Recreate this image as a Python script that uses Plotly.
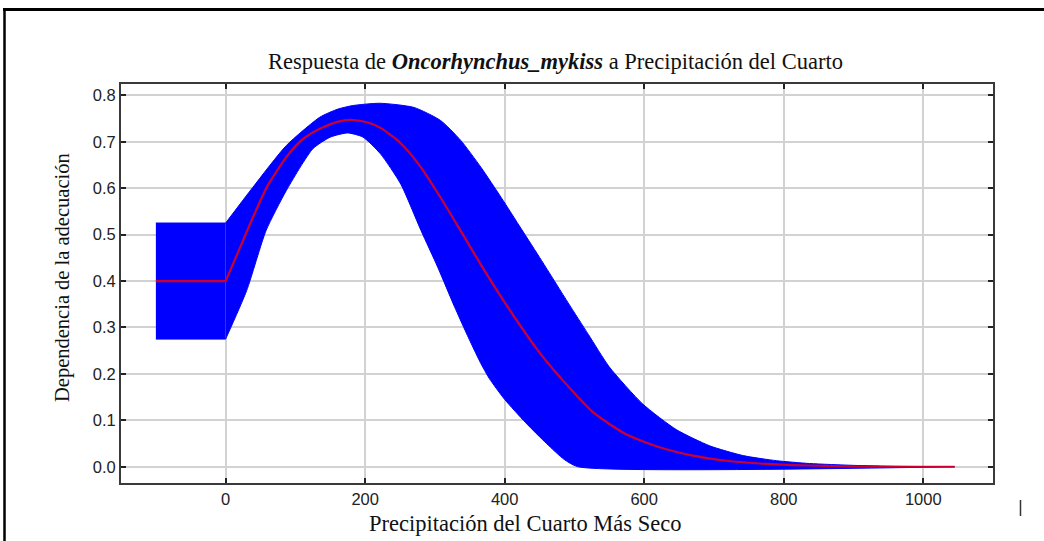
import plotly.graph_objects as go

# ---- data ----
mean_x = [-100, -50, 0, 20, 39, 60, 87, 110, 135, 160, 182, 205, 222, 251, 280, 308, 337, 366, 404,
          450, 484, 527, 574, 622, 670, 718, 766, 813, 860, 920, 1045]
mean_y = [0.40, 0.40, 0.40, 0.47, 0.537, 0.605, 0.667, 0.705, 0.728, 0.743, 0.747, 0.741, 0.730, 0.697,
          0.645, 0.580, 0.508, 0.435, 0.345, 0.246, 0.185, 0.117, 0.070, 0.042, 0.024, 0.013, 0.007,
          0.0035, 0.002, 0.0, 0.0]

up_x = [-100, 0, 39, 87, 135, 160, 182, 221, 270, 308, 337, 366, 395, 424, 453, 491, 520, 550, 598,
        646, 694, 742, 790, 837, 900, 960, 1045]
up_y = [0.525, 0.525, 0.602, 0.692, 0.753, 0.770, 0.778, 0.783, 0.774, 0.746, 0.703, 0.645, 0.58,
        0.512, 0.444, 0.353, 0.285, 0.215, 0.135, 0.080, 0.045, 0.024, 0.013, 0.007, 0.003, 0.001, 0.0]

lo_x = [-100, 0, 30, 58, 87, 125, 150, 175, 197, 222, 251, 280, 304, 328, 345, 365, 378, 400, 430,
        460, 485, 505, 1045]
lo_y = [0.275, 0.275, 0.379, 0.509, 0.595, 0.685, 0.710, 0.719, 0.71, 0.674, 0.609, 0.509, 0.43,
        0.345, 0.288, 0.225, 0.19, 0.145, 0.095, 0.05, 0.016, 0.0, 0.0]

x_ticks = [0, 200, 400, 600, 800, 1000]
y_ticks = [0.0, 0.1, 0.2, 0.3, 0.4, 0.5, 0.6, 0.7, 0.8]

title_txt = "Respuesta de <b><i>Oncorhynchus_mykiss</i></b> a Precipitación del Cuarto"
x_title = "Precipitación del Cuarto Más Seco"
y_title = "Dependencia de la adecuación"

# ---- layout geometry (pixels) ----
W, H = 1044, 541
L, R, T, B = 121, 993, 84, 483


def px(xp):
    return (xp - L) / (R - L)


def py(yp):
    return (B - yp) / (B - T)


SERIF = "Liberation Serif, Times New Roman, serif"
SANS = "Liberation Sans, Arial, sans-serif"
BLUE = "#0000ff"
RED = "rgba(225,0,25,0.9)"
SMOOTH = 0.6

fig = go.Figure()


def split_at_zero(xs, ys):
    """flat part (x <= 0) drawn straight, curved part (x >= 0) drawn smooth"""
    k = xs.index(0)
    return (xs[:k + 1], ys[:k + 1]), (xs[k:], ys[k:])


(lo_a, lo_b) = split_at_zero(lo_x, lo_y)
(up_a, up_b) = split_at_zero(up_x, up_y)
(mn_a, mn_b) = split_at_zero(mean_x, mean_y)

# box part of the band (linear)
fig.add_trace(go.Scatter(x=lo_a[0], y=lo_a[1], mode="lines", line=dict(color=BLUE, width=1),
                         hoverinfo="skip", showlegend=False))
fig.add_trace(go.Scatter(x=up_a[0], y=up_a[1], mode="lines", fill="tonexty", fillcolor=BLUE,
                         line=dict(color=BLUE, width=1), hoverinfo="skip", showlegend=False))
# curved part of the band
fig.add_trace(go.Scatter(x=lo_b[0], y=lo_b[1], mode="lines",
                         line=dict(color=BLUE, width=1, shape="spline", smoothing=SMOOTH),
                         hoverinfo="skip", showlegend=False))
fig.add_trace(go.Scatter(x=up_b[0], y=up_b[1], mode="lines", fill="tonexty", fillcolor=BLUE,
                         line=dict(color=BLUE, width=1, shape="spline", smoothing=SMOOTH),
                         hoverinfo="skip", showlegend=False))
# mean response
fig.add_trace(go.Scatter(x=mn_a[0], y=mn_a[1], mode="lines", line=dict(color=RED, width=2.2),
                         showlegend=False))
fig.add_trace(go.Scatter(x=mn_b[0], y=mn_b[1], mode="lines",
                         line=dict(color=RED, width=2.2, shape="spline", smoothing=SMOOTH),
                         showlegend=False))

axis_common = dict(showline=True, linecolor="#3a3a3a", linewidth=2, mirror="ticks",
                   ticks="inside", ticklen=5, tickwidth=1.5, tickcolor="#222",
                   showgrid=True, gridcolor="#d2d2d2", gridwidth=1.5, zeroline=False,
                   tickfont=dict(family=SANS, size=16.5, color="#222"))

fig.update_xaxes(range=[-150, 1100], tickvals=x_ticks, ticktext=[str(v) for v in x_ticks], **axis_common)
fig.update_yaxes(range=[-0.035, 0.8245], tickvals=y_ticks, ticktext=[f"{v:.1f}" for v in y_ticks],
                 **axis_common)

annotations = [
    dict(text=title_txt, x=px(555), y=py(62), xref="paper", yref="paper", showarrow=False,
         xanchor="center", yanchor="middle", font=dict(family=SERIF, size=22.5, color="#111")),
    dict(text=x_title, x=px(525), y=py(523), xref="paper", yref="paper", showarrow=False,
         xanchor="center", yanchor="middle", font=dict(family=SERIF, size=22.5, color="#111")),
    dict(text=y_title, x=px(62), y=py(278), xref="paper", yref="paper", showarrow=False,
         textangle=-90, xanchor="center", yanchor="middle", font=dict(family=SERIF, size=20.5, color="#111")),
]

shapes = [
    dict(type="line", xref="paper", yref="paper", x0=px(3), x1=px(W), y0=py(9.5), y1=py(9.5),
         line=dict(color="#000", width=3)),
    dict(type="line", xref="paper", yref="paper", x0=px(4.5), x1=px(4.5), y0=py(8), y1=py(H),
         line=dict(color="#000", width=2.5)),
    dict(type="line", xref="paper", yref="paper", x0=px(1020.5), x1=px(1020.5), y0=py(500), y1=py(516),
         line=dict(color="#333", width=1.5)),
]

fig.update_layout(width=W, height=H, margin=dict(l=L, r=W - R, t=T, b=H - B),
                  plot_bgcolor="white", paper_bgcolor="white", showlegend=False,
                  annotations=annotations, shapes=shapes)

fig.write_html("out.html", config={"displayModeBar": False},
               post_script="document.body.style.margin='0';")
